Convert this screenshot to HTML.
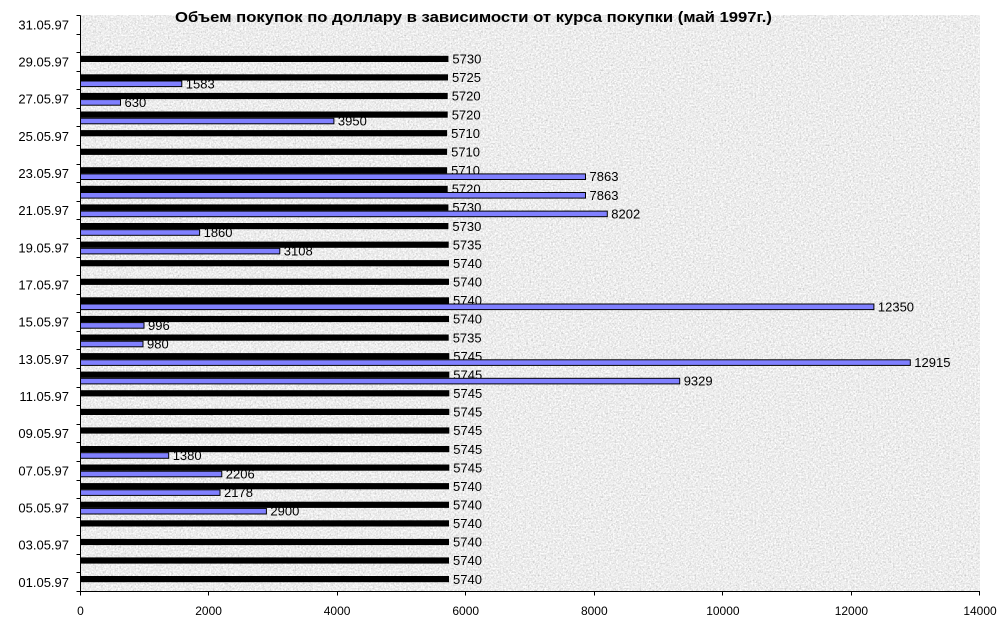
<!DOCTYPE html>
<html><head><meta charset="utf-8"><style>
html,body{margin:0;padding:0;background:#fff;}
svg{display:block;}
text{font-family:"Liberation Sans",Arial,sans-serif;fill:#000;}
</style></head><body>
<svg width="1005" height="640" viewBox="0 0 1005 640" xmlns="http://www.w3.org/2000/svg">
<defs>
<filter id="tex" x="0" y="0" width="100%" height="100%" color-interpolation-filters="sRGB">
<feTurbulence type="fractalNoise" baseFrequency="0.6" numOctaves="3" seed="7"/>
<feColorMatrix type="matrix" values="0.33 0.33 0.33 0 0  0.33 0.33 0.33 0 0  0.33 0.33 0.33 0 0  0 0 0 0 1"/>
<feComponentTransfer>
<feFuncR type="linear" slope="0.6" intercept="0.63"/>
<feFuncG type="linear" slope="0.6" intercept="0.63"/>
<feFuncB type="linear" slope="0.6" intercept="0.63"/>
</feComponentTransfer>
</filter>
</defs>
<rect x="0" y="0" width="1005" height="640" fill="#fff"/>
<rect x="80.5" y="15" width="899.5" height="576.5" fill="#e9e9e9"/>
<rect x="80.5" y="15" width="899.5" height="576.5" filter="url(#tex)"/>

<text x="175" y="22" font-size="15" font-weight="bold" textLength="597" lengthAdjust="spacingAndGlyphs">Объем покупок по доллару в зависимости от курса покупки (май 1997г.)</text>

<g font-size="13">
<text x="453" y="583.8">5740</text>
<text x="453" y="565.2">5740</text>
<text x="453" y="546.7">5740</text>
<text x="453" y="528.1">5740</text>
<text x="453" y="509.5">5740</text>
<text x="453" y="490.9">5740</text>
<text x="453.3" y="472.3">5745</text>
<text x="453.3" y="453.8">5745</text>
<text x="453.3" y="435.2">5745</text>
<text x="453.3" y="416.6">5745</text>
<text x="453.3" y="398.0">5745</text>
<text x="453.3" y="379.4">5745</text>
<text x="453.3" y="360.9">5745</text>
<text x="452.7" y="342.3">5735</text>
<text x="453" y="323.7">5740</text>
<text x="453" y="305.1">5740</text>
<text x="453" y="286.5">5740</text>
<text x="453" y="267.9">5740</text>
<text x="452.7" y="249.4">5735</text>
<text x="452.4" y="230.8">5730</text>
<text x="452.4" y="212.2">5730</text>
<text x="451.7" y="193.6">5720</text>
<text x="451.1" y="175.0">5710</text>
<text x="451.1" y="156.5">5710</text>
<text x="451.1" y="137.9">5710</text>
<text x="451.7" y="119.3">5720</text>
<text x="451.7" y="100.7">5720</text>
<text x="452.0" y="82.1">5725</text>
<text x="452.4" y="63.6">5730</text>

<text x="270.4" y="515.7">2900</text>
<text x="224.0" y="497.1">2178</text>
<text x="225.8" y="478.5">2206</text>
<text x="172.7" y="460.0">1380</text>
<text x="683.7" y="385.6">9329</text>
<text x="914.3" y="367.1">12915</text>
<text x="147.0" y="348.5">980</text>
<text x="148.0" y="329.9">996</text>
<text x="877.9" y="311.3">12350</text>
<text x="283.8" y="255.6">3108</text>
<text x="203.6" y="237.0">1860</text>
<text x="611.3" y="218.4">8202</text>
<text x="589.5" y="199.8">7863</text>
<text x="589.5" y="181.2">7863</text>
<text x="337.9" y="125.5">3950</text>
<text x="124.5" y="106.9">630</text>
<text x="185.8" y="88.3">1583</text>
</g>

<g fill="#000">
<rect x="80.5" y="576.0" width="368.5" height="6.2"/>
<rect x="80.5" y="557.4" width="368.5" height="6.2"/>
<rect x="80.5" y="538.9" width="368.5" height="6.2"/>
<rect x="80.5" y="520.3" width="368.5" height="6.2"/>
<rect x="80.5" y="501.7" width="368.5" height="6.2"/>
<rect x="80.5" y="483.1" width="368.5" height="6.2"/>
<rect x="80.5" y="464.5" width="368.8" height="6.2"/>
<rect x="80.5" y="446.0" width="368.8" height="6.2"/>
<rect x="80.5" y="427.4" width="368.8" height="6.2"/>
<rect x="80.5" y="408.8" width="368.8" height="6.2"/>
<rect x="80.5" y="390.2" width="368.8" height="6.2"/>
<rect x="80.5" y="371.6" width="368.8" height="6.2"/>
<rect x="80.5" y="353.1" width="368.8" height="6.2"/>
<rect x="80.5" y="334.5" width="368.2" height="6.2"/>
<rect x="80.5" y="315.9" width="368.5" height="6.2"/>
<rect x="80.5" y="297.3" width="368.5" height="6.2"/>
<rect x="80.5" y="278.7" width="368.5" height="6.2"/>
<rect x="80.5" y="260.1" width="368.5" height="6.2"/>
<rect x="80.5" y="241.6" width="368.2" height="6.2"/>
<rect x="80.5" y="223.0" width="367.9" height="6.2"/>
<rect x="80.5" y="204.4" width="367.9" height="6.2"/>
<rect x="80.5" y="185.8" width="367.2" height="6.2"/>
<rect x="80.5" y="167.2" width="366.6" height="6.2"/>
<rect x="80.5" y="148.7" width="366.6" height="6.2"/>
<rect x="80.5" y="130.1" width="366.6" height="6.2"/>
<rect x="80.5" y="111.5" width="367.2" height="6.2"/>
<rect x="80.5" y="92.9" width="367.2" height="6.2"/>
<rect x="80.5" y="74.3" width="367.5" height="6.2"/>
<rect x="80.5" y="55.8" width="367.9" height="6.2"/>
</g>

<g fill="#8080ff" stroke="#000" stroke-width="1">
<rect x="80.5" y="508.4" width="185.9" height="5.6"/>
<rect x="80.5" y="489.8" width="139.5" height="5.6"/>
<rect x="80.5" y="471.2" width="141.3" height="5.6"/>
<rect x="80.5" y="452.7" width="88.2" height="5.6"/>
<rect x="80.5" y="378.3" width="599.2" height="5.6"/>
<rect x="80.5" y="359.8" width="829.8" height="5.6"/>
<rect x="80.5" y="341.2" width="62.5" height="5.6"/>
<rect x="80.5" y="322.6" width="63.5" height="5.6"/>
<rect x="80.5" y="304.0" width="793.4" height="5.6"/>
<rect x="80.5" y="248.3" width="199.3" height="5.6"/>
<rect x="80.5" y="229.7" width="119.1" height="5.6"/>
<rect x="80.5" y="211.1" width="526.8" height="5.6"/>
<rect x="80.5" y="192.5" width="505.0" height="5.6"/>
<rect x="80.5" y="173.9" width="505.0" height="5.6"/>
<rect x="80.5" y="118.2" width="253.4" height="5.6"/>
<rect x="80.5" y="99.6" width="40.0" height="5.6"/>
<rect x="80.5" y="81.0" width="101.3" height="5.6"/>
</g>

<g stroke="#000" stroke-width="1" fill="none">
<path d="M80.5 15.5 V591.5 H980"/>
<path d="M76.5 15.5H80.5 M76.5 34.5H80.5 M76.5 52.5H80.5 M76.5 71.5H80.5 M76.5 89.5H80.5 M76.5 108.5H80.5 M76.5 126.5H80.5 M76.5 145.5H80.5 M76.5 164.5H80.5 M76.5 182.5H80.5 M76.5 201.5H80.5 M76.5 219.5H80.5 M76.5 238.5H80.5 M76.5 257.5H80.5 M76.5 275.5H80.5 M76.5 294.5H80.5 M76.5 312.5H80.5 M76.5 331.5H80.5 M76.5 349.5H80.5 M76.5 368.5H80.5 M76.5 387.5H80.5 M76.5 405.5H80.5 M76.5 424.5H80.5 M76.5 442.5H80.5 M76.5 461.5H80.5 M76.5 480.5H80.5 M76.5 498.5H80.5 M76.5 517.5H80.5 M76.5 535.5H80.5 M76.5 554.5H80.5 M76.5 572.5H80.5 M76.5 591.5H80.5"/>
<path d="M80.5 591.5V595.5 M208.5 591.5V595.5 M337.5 591.5V595.5 M465.5 591.5V595.5 M594.5 591.5V595.5 M722.5 591.5V595.5 M851.5 591.5V595.5 M979.5 591.5V595.5"/>
</g>

<g font-size="13" text-anchor="end" fill="#111">
<text x="69" y="586.8">01.05.97</text>
<text x="69" y="549.7">03.05.97</text>
<text x="69" y="512.5">05.05.97</text>
<text x="69" y="475.3">07.05.97</text>
<text x="69" y="438.2">09.05.97</text>
<text x="69" y="401.0">11.05.97</text>
<text x="69" y="363.9">13.05.97</text>
<text x="69" y="326.7">15.05.97</text>
<text x="69" y="289.5">17.05.97</text>
<text x="69" y="252.4">19.05.97</text>
<text x="69" y="215.2">21.05.97</text>
<text x="69" y="178.0">23.05.97</text>
<text x="69" y="140.9">25.05.97</text>
<text x="69" y="103.7">27.05.97</text>
<text x="69" y="66.6">29.05.97</text>
<text x="69" y="29.4">31.05.97</text>
</g>

<g font-size="12" text-anchor="middle">
<text x="80.5" y="615">0</text>
<text x="208.6" y="615">2000</text>
<text x="337.1" y="615">4000</text>
<text x="465.7" y="615">6000</text>
<text x="594.3" y="615">8000</text>
<text x="722.9" y="615">10000</text>
<text x="851.4" y="615">12000</text>
<text x="980" y="615">14000</text>
</g>
</svg>
</body></html>
